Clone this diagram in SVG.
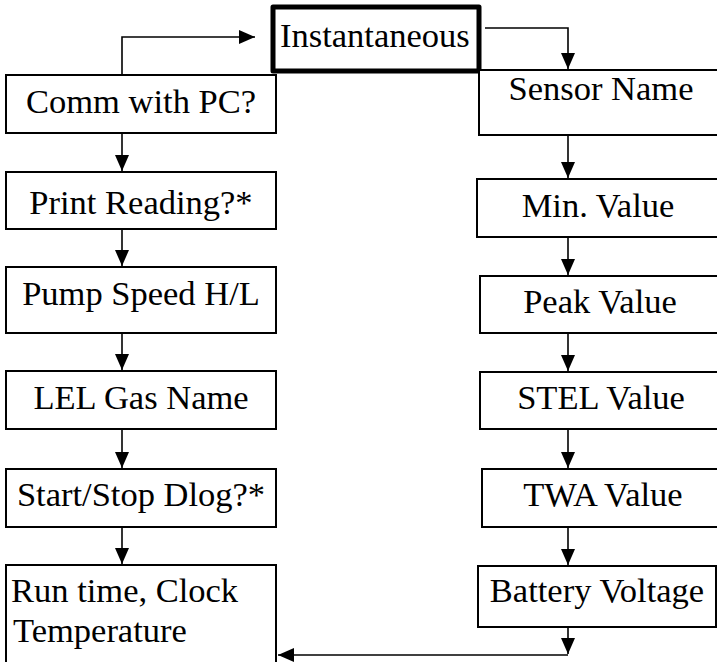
<svg xmlns="http://www.w3.org/2000/svg" width="717" height="662" viewBox="0 0 717 662">
<defs>
<style>
.box{fill:#fff;stroke:#000;stroke-width:2}
.thick{fill:#fff;stroke:#000;stroke-width:5;stroke-linejoin:round}
text{font-family:'Liberation Serif',Tinos,'Times New Roman',Times,serif;font-size:34.5px;fill:#000}
.c{text-anchor:middle}
.con path{fill:none;stroke:#000;stroke-width:1.6}
</style>
<marker id="ah" markerUnits="userSpaceOnUse" markerWidth="16" markerHeight="16" viewBox="0 0 16 14" refX="16" refY="7" orient="auto">
<path d="M0,0 L16,7 L0,14 Z" fill="#000"/>
</marker>
</defs>
<rect width="717" height="662" fill="#fff"/>
<g class="con">
<path d="M122,75 V37 H255" marker-end="url(#ah)"/>
<path d="M485,28 H568 V69" marker-end="url(#ah)"/>
<path d="M122,133 V171" marker-end="url(#ah)"/>
<path d="M122,229 V266" marker-end="url(#ah)"/>
<path d="M122,333 V370" marker-end="url(#ah)"/>
<path d="M122,429 V468" marker-end="url(#ah)"/>
<path d="M122,527 V564" marker-end="url(#ah)"/>
<path d="M568,135 V178" marker-end="url(#ah)"/>
<path d="M568,237 V275" marker-end="url(#ah)"/>
<path d="M568,333 V371" marker-end="url(#ah)"/>
<path d="M568,429 V468" marker-end="url(#ah)"/>
<path d="M568,527 V565" marker-end="url(#ah)"/>
<path d="M568,627 V654" marker-end="url(#ah)"/>
<path d="M568,655 H278" marker-end="url(#ah)"/>
</g>
<g id="instantaneous"><rect class="thick" x="273" y="7" width="206" height="64"/><text x="280" y="47" font-family="Liberation Serif">Instantaneous</text></g>
<g id="comm"><rect class="box" x="6" y="75" width="270" height="58"/><text class="c" x="141" y="113">Comm with PC?</text></g>
<g id="print"><rect class="box" x="6" y="172" width="270" height="57"/><text class="c" x="141" y="214">Print Reading?*</text></g>
<g id="pump"><rect class="box" x="6" y="267" width="270" height="66"/><text class="c" x="141" y="305">Pump Speed H/L</text></g>
<g id="lel"><rect class="box" x="6" y="371" width="270" height="58"/><text class="c" x="141" y="409">LEL Gas Name</text></g>
<g id="dlog"><rect class="box" x="6" y="469" width="270" height="58"/><text class="c" x="141" y="506">Start/Stop Dlog?*</text></g>
<g id="runtime"><rect class="box" x="6" y="565" width="270" height="110"/><text x="11" y="602">Run time, Clock</text><text x="13" y="642">Temperature</text></g>
<g id="sensor"><rect class="box" x="479" y="70" width="245" height="65"/><text class="c" x="601" y="100">Sensor Name</text></g>
<g id="min"><rect class="box" x="477" y="179" width="247" height="58"/><text class="c" x="598" y="217">Min. Value</text></g>
<g id="peak"><rect class="box" x="480" y="276" width="244" height="57"/><text class="c" x="600" y="313">Peak Value</text></g>
<g id="stel"><rect class="box" x="480" y="372" width="244" height="57"/><text class="c" x="601" y="409">STEL Value</text></g>
<g id="twa"><rect class="box" x="482" y="469" width="242" height="58"/><text class="c" x="603" y="506">TWA Value</text></g>
<g id="battery"><rect class="box" x="478" y="566" width="238" height="61"/><text class="c" x="597" y="602">Battery Voltage</text></g>
</svg>
